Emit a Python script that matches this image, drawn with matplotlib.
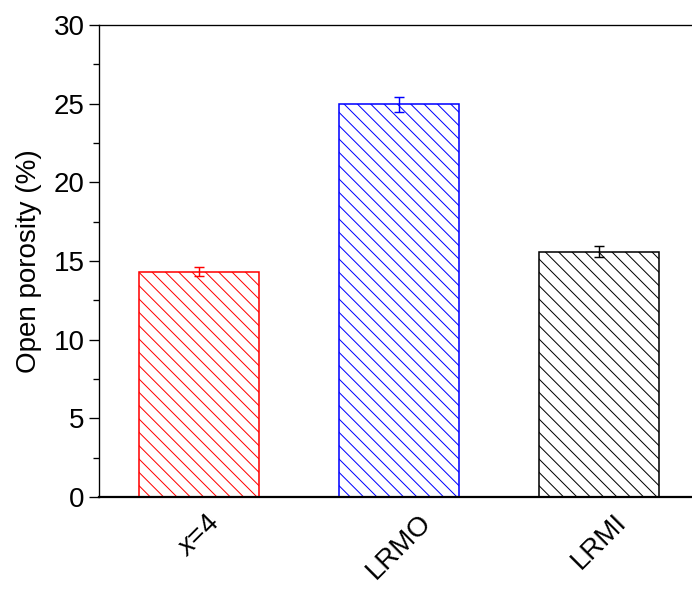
import matplotlib
matplotlib.use('Agg')
import matplotlib.pyplot as plt
from matplotlib.ticker import MultipleLocator

# Data
samples = ['$x$=4', 'LRMO', 'LRMI']
porosity = [14.33, 24.95, 15.6]
porosity_err = [0.3, 0.47, 0.37]
bar_colors = ['#FF0000', '#0000FF', '#000000']

plt.rcParams['font.family'] = ['Liberation Sans', 'DejaVu Sans']
plt.rcParams['mathtext.fontset'] = 'custom'
plt.rcParams['mathtext.rm'] = 'Liberation Sans'
plt.rcParams['mathtext.it'] = 'Liberation Sans:italic'
plt.rcParams['hatch.linewidth'] = 0.9

DPI = 80
fig = plt.figure(figsize=(692 / DPI, 590 / DPI), dpi=DPI)
# axes run off the right edge like the original export
ax = fig.add_axes([99 / 692, 93 / 590, 600 / 692, 472 / 590])

x = range(len(samples))
for i, (val, err, col) in enumerate(zip(porosity, porosity_err, bar_colors)):
    ax.bar(i, val, width=0.6, facecolor='white', edgecolor=col,
           hatch='\\\\', linewidth=1.4, zorder=2)
    ax.errorbar(i, val, yerr=err, color=col, capsize=4.5, capthick=1.3,
                elinewidth=1.3, zorder=3)

ax.set_xlim(-0.5, 2.5)
ax.set_ylim(0, 30)
ax.set_xticks(list(x))
ax.set_xticklabels(samples, rotation=45, fontsize=25)
ax.yaxis.set_major_locator(MultipleLocator(5))
ax.yaxis.set_minor_locator(MultipleLocator(2.5))
ax.tick_params(axis='y', which='major', direction='out', length=9, width=1.2,
               labelsize=25, pad=4)
ax.tick_params(axis='y', which='minor', direction='out', length=5, width=1.2)
ax.tick_params(axis='x', length=0, pad=11)
ax.set_ylabel('Open porosity (%)', fontsize=25, labelpad=10)

ax.spines['left'].set_linewidth(1.2)
ax.spines['top'].set_linewidth(1.2)
ax.spines['bottom'].set_linewidth(2)

fig.savefig('out.png', dpi=DPI)
